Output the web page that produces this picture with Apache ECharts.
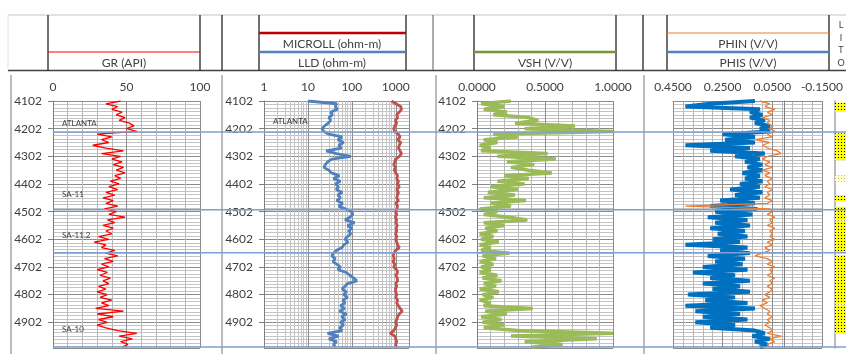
<!DOCTYPE html>
<html>
<head>
<meta charset="utf-8">
<script src="https://cdn.jsdelivr.net/npm/echarts@6/dist/echarts.min.js"></script>
<style>
  html, body { margin: 0; background: #fff; }
  #chart { width: 846px; height: 354px; }
</style>
</head>
<body>
<div id="chart"></div>
<script>
// sample depths (ft), one reading every 10 ft
const depth = [
  4102, 4112, 4122, 4132, 4142, 4152, 4162, 4172, 4182, 4192,
  4202, 4212, 4222, 4232, 4242, 4252, 4262, 4272, 4282, 4292,
  4302, 4312, 4322, 4332, 4342, 4352, 4362, 4372, 4382, 4392,
  4402, 4412, 4422, 4432, 4442, 4452, 4462, 4472, 4482, 4492,
  4502, 4512, 4522, 4532, 4542, 4552, 4562, 4572, 4582, 4592,
  4602, 4612, 4622, 4632, 4642, 4652, 4662, 4672, 4682, 4692,
  4702, 4712, 4722, 4732, 4742, 4752, 4762, 4772, 4782, 4792,
  4802, 4812, 4822, 4832, 4842, 4852, 4862, 4872, 4882, 4892,
  4902, 4912, 4922, 4932, 4942, 4952, 4962, 4972, 4982, 4992
];

const gr = [
  46, 36, 44, 40, 47, 43, 49, 45, 52, 55,
  50, 57, 30, 40, 33, 38, 27, 36, 48, 33,
  46, 40, 47, 41, 48, 43, 49, 42, 46, 39,
  45, 38, 44, 36, 42, 34, 41, 36, 44, 35,
  43, 38, 49, 37, 42, 34, 41, 36, 40, 31,
  38, 28, 36, 33, 42, 36, 44, 35, 41, 33,
  38, 30, 37, 32, 39, 34, 38, 31, 36, 30,
  37, 32, 40, 33, 38, 29, 48, 30, 41, 31,
  37, 30, 36, 44, 57, 45, 54, 46, 51, 47
];

const lld = [
  10, 45, 42, 47, 33, 36, 30, 33, 29, 24,
  21, 23, 30, 60, 48, 65, 50, 58, 26, 45,
  95, 35, 28, 25, 23, 30, 34, 52, 38, 55,
  42, 50, 44, 60, 48, 55, 45, 62, 50, 70,
  100, 105, 90, 70, 115, 80, 100, 85, 95, 80,
  70, 82, 65, 60, 45, 38, 35, 42, 37, 45,
  55, 48, 75, 90, 110, 130, 80, 70, 60, 75,
  65, 80, 62, 70, 55, 68, 52, 75, 58, 70,
  55, 65, 52, 60, 28, 50, 30, 45, 38, 42
];

const microll = [
  800, 1000, 1300, 1350, 1200, 1050, 1100, 980, 1050, 950,
  900, 950, 1150, 1250, 1100, 1300, 1200, 1150, 1250, 1350,
  1200, 1000, 950, 900, 980, 920, 1000, 1100, 1050, 1150,
  1100, 1200, 1050, 1150, 1100, 1050, 1150, 1000, 1100, 1050,
  1000, 1050, 980, 1050, 1000, 1080, 1020, 1050, 990, 1060,
  1000, 1050, 1100, 1200, 1000, 900, 880, 920, 870, 950,
  900, 1050, 1100, 1000, 1080, 1100, 1000, 1050, 980, 1000,
  1050, 1000, 1100, 1050, 1150, 1250, 1400, 1200, 1100, 1050,
  1000, 1050, 980, 900, 750, 950, 1000, 1050, 1000, 1020
];

const vsh = [
  0.25, 0.03, 0.20, 0.05, 0.22, 0.12, 0.38, 0.45, 0.28, 0.72,
  0.35, 1.00, 0.12, 0.30, 0.05, 0.15, 0.02, 0.10, 0.03, 0.52,
  0.15, 0.58, 0.22, 0.42, 0.25, 0.38, 0.55, 0.20, 0.38, 0.15,
  0.35, 0.10, 0.30, 0.08, 0.28, 0.05, 0.36, 0.10, 0.25, 0.02,
  0.15, 0.05, 0.24, 0.37, 0.05, 0.20, 0.06, 0.15, 0.02, 0.12,
  0.03, 0.16, 0.02, 0.10, 0.03, 0.24, 0.04, 0.14, 0.02, 0.12,
  0.03, 0.10, 0.02, 0.15, 0.04, 0.18, 0.05, 0.14, 0.02, 0.16,
  0.04, 0.12, 0.02, 0.10, 0.05, 0.41, 0.06, 0.22, 0.03, 0.18,
  0.04, 0.20, 0.05, 0.30, 1.00, 0.25, 0.88, 0.35, 0.63, 0.40
];

const phis = [
  0.12, 0.30, 0.40, 0.10, 0.14, 0.09, 0.14, 0.08, 0.12, 0.06,
  0.10, 0.06, 0.25, 0.12, 0.24, 0.12, 0.40, 0.14, 0.30, 0.08,
  0.20, 0.10, 0.16, 0.09, 0.15, 0.09, 0.17, 0.10, 0.16, 0.09,
  0.18, 0.10, 0.22, 0.09, 0.20, 0.10, 0.26, 0.12, 0.30, 0.11,
  0.28, 0.13, 0.31, 0.15, 0.28, 0.14, 0.30, 0.16, 0.27, 0.15,
  0.29, 0.18, 0.40, 0.15, 0.26, 0.14, 0.31, 0.16, 0.28, 0.17,
  0.33, 0.15, 0.37, 0.20, 0.30, 0.14, 0.33, 0.18, 0.29, 0.14,
  0.39, 0.20, 0.32, 0.15, 0.40, 0.12, 0.36, 0.18, 0.33, 0.15,
  0.36, 0.20, 0.30, 0.12, 0.08, 0.13, 0.06, 0.12, 0.07, 0.10
];

const phin = [
  0.10, 0.06, 0.08, 0.04, 0.07, 0.05, 0.09, 0.06, 0.07, 0.05,
  0.06, 0.04, 0.07, 0.05, 0.12, 0.06, 0.09, 0.07, 0.03, 0.015,
  0.07, 0.09, 0.06, 0.08, 0.05, 0.09, 0.06, 0.08, 0.05, 0.07,
  0.06, 0.08, 0.05, 0.07, 0.06, 0.08, 0.05, 0.07, 0.40, 0.06,
  0.05, 0.07, 0.04, 0.06, 0.05, 0.07, 0.04, 0.06, 0.05, 0.06,
  0.04, 0.07, 0.05, 0.08, 0.06, 0.09, 0.12, 0.07, 0.05, 0.07,
  0.04, 0.06, 0.05, 0.07, 0.04, 0.06, 0.05, 0.07, 0.05, 0.06,
  0.08, 0.06, 0.09, 0.07, 0.10, 0.08, 0.06, 0.07, 0.05, 0.07,
  0.06, 0.08, 0.06, 0.05, 0.07, 0.015, 0.06, 0.04, 0.07, 0.06
];

// formation tops (ft) and their names
const formationTops = [4214, 4495, 4651, 4991];
const formationNames = ["ATLANTA", "SA-11", "SA-11.2", "SA-10"];

// lithology column: sand intervals (top, base), pale = lighter fill
const lithoTop  = [4108, 4219, 4293, 4370, 4442, 4484, 4535, 4659, 4838];
const lithoBase = [4141, 4290, 4316, 4394, 4466, 4533, 4647, 4835, 4943];
const lithoPale = [0, 0, 0, 1, 0, 0, 0, 0, 0];

const FONT = 'Lato, "Noto Sans", sans-serif';
const DEPTH_MIN = 4102, DEPTH_MAX = 4995;

const pairs = (vals) => vals.map((v, i) => [v, depth[i]]);

function dotPattern(bg, dot) {
  const c = document.createElement("canvas");
  c.width = 3; c.height = 3;
  const g = c.getContext("2d");
  g.fillStyle = bg; g.fillRect(0, 0, 3, 3);
  g.fillStyle = dot; g.fillRect(1, 1, 1, 1);
  return { image: c, repeat: "repeat" };
}
const sandFill = dotPattern("#ffff00", "#000000");
const paleFill = dotPattern("#ffffc0", "#b0b090");

function depthAxis(gridIndex, labels) {
  return {
    type: "value", gridIndex, inverse: true,
    min: DEPTH_MIN, max: DEPTH_MAX, interval: 100, z: 0,
    axisLine: { show: true, lineStyle: { color: "#7f7f7f", width: 1 } },
    axisTick: { show: labels, length: 5, lineStyle: { color: "#7f7f7f" } },
    axisLabel: { show: labels, color: "#404040", fontSize: 12, fontFamily: FONT, margin: 11,
      showMaxLabel: false, formatter: (v) => String(v) },
    splitLine: { show: true, lineStyle: { color: "#8c8c8c", width: 1 } },
    minorTick: { show: false, splitNumber: 8 },
    minorSplitLine: { show: true, lineStyle: { color: "#c4c4c4", width: 1 } }
  };
}

function valueAxis(gridIndex, min, max, interval, fmt, extra) {
  return Object.assign({
    type: "value", gridIndex, position: "top", min, max, interval, z: 0,
    axisLine: { show: true, lineStyle: { color: "#8c8c8c" } },
    axisTick: { show: false },
    axisLabel: { color: "#404040", fontSize: 12, fontFamily: FONT, margin: 8, formatter: fmt },
    splitLine: { show: true, lineStyle: { color: "#8c8c8c", width: 1 } },
    minorTick: { show: false, splitNumber: 5 },
    minorSplitLine: { show: true, lineStyle: { color: "#b8b8b8", width: 1 } }
  }, extra || {});
}

// log minor gridlines 2..9 per decade for the resistivity track
const logMinor = [];
[1, 10, 100, 1000].forEach((d) => {
  for (let k = 2; k <= 9; k++) if (d * k < 2000) logMinor.push(d * k);
});

const grids = [
  { left: 53, top: 101, width: 147, height: 247 },
  { left: 264, top: 101, width: 145, height: 247 },
  { left: 477, top: 101, width: 136, height: 247 },
  { left: 673, top: 101, width: 152, height: 247 },
  { left: 835, top: 101, width: 20, height: 247 }
];

const curve = (name, xi, data, color, width, z) => ({
  name, type: "line", xAxisIndex: xi, yAxisIndex: xi, data,
  symbol: "none", showSymbol: false, z: z || 10,
  lineStyle: { color, width }
});

const chart = echarts.init(document.getElementById("chart"));

chart.setOption({
  animation: false,
  backgroundColor: "#fff",
  grid: grids,
  xAxis: [
    valueAxis(0, 0, 100, 50, (v) => String(v)),
    {
      type: "log", logBase: 10, gridIndex: 1, position: "top", min: 1, max: 2000, z: 0,
      axisLine: { show: true, lineStyle: { color: "#8c8c8c" } },
      axisTick: { show: false },
      axisLabel: { color: "#404040", fontSize: 12, fontFamily: FONT, margin: 8, showMaxLabel: false,
        formatter: (v) => String(Math.round(v)) },
      splitLine: { show: true, lineStyle: { color: "#8c8c8c", width: 1 } }
    },
    valueAxis(2, 0, 1, 0.5, (v) => v.toFixed(4)),
    valueAxis(3, -0.15, 0.45, 0.2, (v) => v.toFixed(4), { inverse: true }),
    { type: "value", gridIndex: 4, min: 0, max: 1, show: false }
  ],
  yAxis: [
    depthAxis(0, true),
    depthAxis(1, true),
    depthAxis(2, true),
    depthAxis(3, false),
    {
      type: "value", gridIndex: 4, inverse: true, min: DEPTH_MIN, max: DEPTH_MAX,
      axisLine: { show: true, lineStyle: { color: "#a6a6a6", width: 1.5 } },
      axisTick: { show: false }, axisLabel: { show: false }, splitLine: { show: false }
    }
  ],
  series: [
    {
      name: "log grid", type: "line", xAxisIndex: 1, yAxisIndex: 1, data: [], z: 1,
      markLine: {
        silent: true, symbol: "none", label: { show: false }, z: 1,
        lineStyle: { color: "#c4c4c4", width: 1, type: "solid" },
        data: logMinor.map((v) => ({ xAxis: v }))
      }
    },
    curve("GR", 0, pairs(gr), "#ff0000", 1.3),
    curve("LLD", 1, pairs(lld), "#4f81bd", 2.8),
    curve("MICROLL", 1, pairs(microll), "#c0504d", 2.8),
    curve("VSH", 2, pairs(vsh), "#9bbb59", 3.5),
    curve("PHIS", 3, pairs(phis), "#0070c0", 4),
    curve("PHIN", 3, pairs(phin), "#ed7d31", 1.3, 11),
    {
      name: "LITHO", type: "custom", xAxisIndex: 4, yAxisIndex: 4,
      data: lithoTop.map((t, i) => [t, lithoBase[i], lithoPale[i]]),
      encode: { y: [0, 1] },
      renderItem(params, api) {
        const a = api.coord([0, api.value(0)]);
        const b = api.coord([1, api.value(1)]);
        return {
          type: "rect",
          shape: { x: a[0], y: a[1], width: b[0] - a[0], height: b[1] - a[1] },
          style: { fill: api.value(2) ? paleFill : sandFill }
        };
      }
    }
  ]
});

// ---- header boxes, panel frames, formation tops ----
const hline = (x1, x2, y, stroke, lineWidth) =>
  ({ type: "line", silent: true, shape: { x1, y1: y, x2, y2: y }, style: { stroke, lineWidth } });
const vline = (x, y1, y2, stroke, lineWidth) =>
  ({ type: "line", silent: true, shape: { x1: x, y1, x2: x, y2 }, style: { stroke, lineWidth } });
const text = (x, y, s, size, align) => ({
  type: "text", silent: true, x, y,
  style: {
    text: s, fill: "#404040", font: size + "px " + FONT,
    align: align || "center", verticalAlign: "middle",
    textAlign: align || "center", textVerticalAlign: "middle"
  }
});

const g = [];
// header frame
g.push(hline(8, 846, 15, "#d9d9d9", 1.5));
g.push(hline(8, 846, 70.5, "#404040", 1.5));
g.push(vline(8, 15, 70, "#e0e0e0", 1));
[48, 200, 222, 259, 406, 474, 616, 643, 667, 829].forEach((x) => g.push(vline(x, 15, 70, "#262626", 1.3)));
g.push(vline(433, 15, 70, "#7f7f7f", 1.3));
// header curve keys
g.push(hline(48, 200, 52, "#ff0000", 1));
g.push(text(124, 63, "GR (API)", 12));
g.push(hline(259, 406, 33, "#c00000", 2.5));
g.push(text(332, 44, "MICROLL (ohm-m)", 12));
g.push(hline(259, 406, 52, "#4f81bd", 2.5));
g.push(text(332, 63, "LLD (ohm-m)", 12));
g.push(hline(474, 616, 52, "#77933c", 2.5));
g.push(text(545, 63, "VSH (V/V)", 12));
g.push(hline(667, 829, 33, "#ed7d31", 1.2));
g.push(text(748, 44, "PHIN (V/V)", 12));
g.push(hline(667, 829, 52, "#4f81bd", 2.5));
g.push(text(748, 63, "PHIS (V/V)", 12));
["L", "I", "T", "O"].forEach((ch, i) => g.push(text(841, 25 + i * 12.7, ch, 9)));
// panel left frames
[11, 222, 436, 644].forEach((x) => g.push(vline(x, 75, 354, "#a6a6a6", 1.5)));

// formation top lines across all tracks
const xStart = chart.convertToPixel({ xAxisIndex: 0 }, 0);
formationTops.forEach((d) => {
  const y = chart.convertToPixel({ yAxisIndex: 0 }, d);
  g.push(Object.assign(hline(xStart, 846, y, "#7f9fd4", 1.5), { z: 100 }));
});
// formation names, just above each top
const nameOffsets = [9, 15, 17, 17];
formationNames.forEach((n, i) => {
  const y = chart.convertToPixel({ yAxisIndex: 0 }, formationTops[i]) - nameOffsets[i];
  g.push(Object.assign(text(62, y, n, 8, "left"), { z: 101 }));
});
g.push(Object.assign(
  text(273, chart.convertToPixel({ yAxisIndex: 1 }, formationTops[0]) - 11, formationNames[0], 8, "left"),
  { z: 101 }));

chart.setOption({ graphic: g });
</script>
</body>
</html>
